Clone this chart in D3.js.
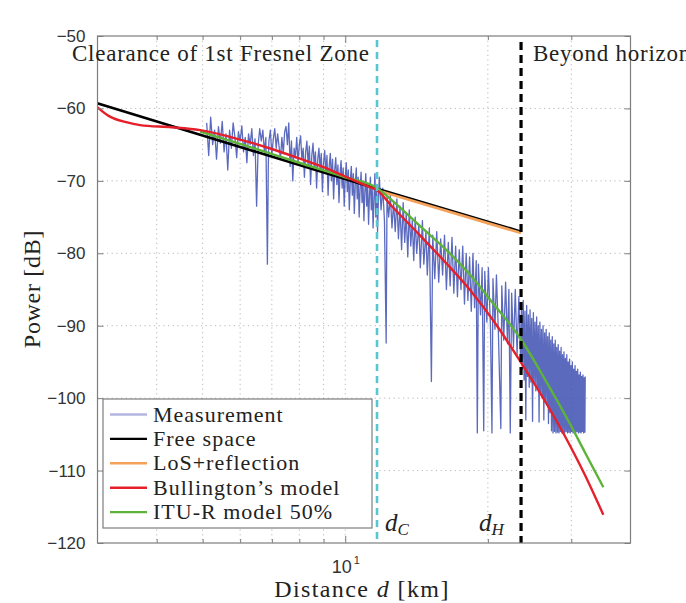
<!DOCTYPE html>
<html>
<head>
<meta charset="utf-8">
<script src="https://cdn.jsdelivr.net/npm/d3@7"></script>
<style>
  body { margin: 0; background: #fff; }
  .serif { font-family: "Liberation Serif", "Times New Roman", serif; fill: #222; }
  .tick text { font-family: "Liberation Sans", Arial, sans-serif; font-size: 17px; fill: #333; }
</style>
</head>
<body>
<script>
// distance [km] and received power [dB]
var measDist = [5.1,5.15,5.2,5.25,5.3,5.35,5.4,5.45,5.5,5.55,5.6,5.65,5.7,5.75,5.8,5.85,5.9,5.95,6.0,6.05,6.1,6.15,6.2,6.25,6.3,6.35,6.4,6.45,6.5,6.55,6.6,6.65,6.7,6.75,6.8,6.85,6.88,6.9,6.95,7.0,7.05,7.1,7.15,7.2,7.3,7.35,7.4,7.45,7.5,7.55,7.6,7.65,7.7,7.75,7.8,7.85,7.9,7.95,8.0,8.05,8.1,8.15,8.2,8.25,8.3,8.35,8.4,8.45,8.5,8.55,8.6,8.65,8.7,8.75,8.8,8.85,8.9,8.95,9.0,9.05,9.1,9.15,9.2,9.25,9.3,9.35,9.4,9.45,9.5,9.55,9.6,9.65,9.7,9.75,9.8,9.85,9.9,9.95,10.0,10.05,10.1,10.15,10.2,10.25,10.3,10.35,10.4,10.45,10.5,10.55,10.6,10.65,10.7,10.75,10.8,10.85,10.9,10.95,11.0,11.05,11.1,11.15,11.2,11.25,11.3,11.35,11.4,11.45,11.5,11.55,11.6,11.65,11.7,
  11.75,11.8,11.9,12.0,12.1,12.2,12.25,12.35,12.45,12.55,12.65,12.75,12.85,12.95,13.05,13.15,13.25,13.35,13.45,13.55,13.65,13.75,13.85,13.95,14.05,14.15,14.3,14.4,14.55,14.65,14.8,14.9,15.05,15.2,15.3,15.45,15.6,15.75,15.9,16.05,16.2,16.35,16.5,16.65,16.8,16.95,17.1,17.25,17.4,17.55,17.7,17.85,18.0,18.15,18.3,18.45,18.6,18.75,18.9,19.0,19.1,19.3,19.45,19.6,19.7,19.9,20.05,20.25,20.4,20.5,20.7,20.85,21.05,21.3,21.4,21.6,21.8,22.0,22.15,22.3,22.45,22.65,22.85,23.05,23.25,23.45,
  23.55,23.65,23.75,23.85,23.95,24.05,24.15,24.25,24.35,24.45,24.55,24.65,24.75,24.85,24.95,25.05,25.15,25.25,25.35,25.45,25.55,25.65,25.75,25.85,25.95,26.05,26.15,26.25,26.35,26.45,26.55,26.65,26.75,26.85,26.95,27.05,27.15,27.25,27.35,27.45,27.55,27.65,27.75,27.85,27.95,28.05,28.15,28.25,28.35,28.45,28.55,28.65,28.75,28.85,28.95,29.05,29.15,29.25,29.35,29.45,29.55,29.65,29.75,29.85,29.95,30.05,30.15,30.25,30.35,30.45,30.55,30.65,30.75,30.85,30.95,31.05,31.15,31.25,31.35,31.45,31.55,31.65,31.75,31.85,31.95,32.05,32.1];
var measPower = [-62.0,-66.5,-61.2,-65.0,-63.0,-67.0,-62.5,-64.8,-61.8,-66.0,-63.5,-68.5,-63.0,-65.5,-62.0,-64.0,-66.8,-63.2,-64.5,-62.4,-66.0,-64.0,-67.5,-63.5,-65.0,-62.8,-66.5,-64.2,-73.5,-65.0,-62.8,-64.5,-63.0,-66.0,-64.0,-81.5,-68.0,-64.5,-63.0,-66.5,-64.2,-62.8,-65.5,-63.5,-67.0,-64.0,-66.2,-63.2,-62.5,-65.0,-62.0,-68.0,-64.5,-70.0,-65.5,-66.8,-64.0,-67.5,-65.0,-63.8,-67.0,-65.5,-69.5,-66.0,-64.5,-67.8,-65.2,-70.5,-66.5,-64.8,-68.0,-66.0,-71.0,-67.0,-65.5,-68.5,-66.2,-71.5,-67.5,-65.8,-69.0,-66.5,-72.0,-68.0,-66.2,-70.0,-67.0,-72.5,-68.5,-66.8,-70.5,-67.8,-73.0,-69.0,-67.2,-71.0,-68.2,-73.5,-69.5,-67.5,-71.5,-68.5,-74.0,-70.0,-68.0,-72.0,-69.0,-74.5,-70.5,-68.2,-72.5,-69.5,-75.0,-71.0,-68.8,-73.0,-70.0,-75.5,-71.5,-69.0,-73.5,-70.5,-76.0,-72.0,-69.5,-74.0,-71.0,-76.5,-72.5,-69.0,-75.0,-70.5,-77.0,
  -72.5,-69.5,-74.0,-71.0,-75.5,-92.4,-72.0,-75.0,-72.0,-76.5,-73.0,-77.0,-72.5,-78.0,-73.5,-79.5,-73.0,-78.5,-74.5,-80.5,-74.0,-79.0,-75.5,-81.0,-75.0,-80.0,-76.0,-82.0,-75.5,-81.5,-77.0,-83.0,-76.5,-97.7,-77.5,-83.5,-77.0,-84.0,-78.0,-83.0,-77.5,-85.0,-78.5,-84.5,-77.8,-85.5,-79.0,-86.0,-79.5,-85.0,-79.0,-87.0,-80.0,-86.5,-80.5,-88.0,-80.0,-87.5,-81.0,-104.8,-81.5,-88.5,-82.0,-104.5,-82.5,-89.5,-82.0,-90.0,-104.8,-83.5,-90.5,-83.0,-91.0,-104.2,-84.5,-92.0,-84.0,-92.5,-85.0,-104.8,-85.5,-93.0,-85.0,-94.0,-86.0,-95.0,
  -87.0,-96.0,-86.5,-97.5,-88.0,-103.0,-87.2,-97.0,-88.5,-98.5,-87.8,-97.8,-89.0,-103.2,-88.2,-98.0,-89.5,-99.0,-88.8,-98.6,-90.0,-103.3,-89.5,-99.5,-90.5,-100.0,-90.0,-103.0,-91.0,-100.5,-90.5,-101.0,-91.5,-103.5,-91.0,-102.0,-92.0,-104.5,-91.5,-104.8,-92.5,-104.6,-92.0,-104.8,-93.0,-104.7,-92.6,-104.8,-93.5,-104.6,-93.0,-104.8,-94.0,-104.7,-93.6,-104.8,-94.5,-104.6,-94.0,-104.8,-95.0,-104.7,-94.6,-104.8,-95.5,-104.6,-95.0,-104.8,-96.0,-104.7,-95.5,-104.8,-96.3,-104.6,-96.0,-104.8,-96.8,-104.7,-96.4,-104.8,-97.0,-104.6,-96.8,-104.8,-97.2,-104.7,-97.0];

var freeDist = [3, 11.67, 23.5];
var freePower = [-59.3, -71.1, -77.0];
var losDist = [11.67, 23.5];
var losPower = [-71.3, -77.2];
var bullDist = [3, 3.18, 3.45, 3.69, 4.3, 4.94, 6, 7, 8, 9, 10, 11.2, 11.67, 12.5, 14.41, 16.3, 18.36, 20.8, 23.45, 26.45, 29.84, 32, 35.05];
var bullPower = [-59.85, -61.1, -61.9, -62.3, -62.6, -63.0, -64.3, -65.6, -66.9, -68.1, -69.4, -70.8, -71.3, -73.4, -77.6, -81.3, -85.1, -89.8, -95.0, -100.5, -106.6, -110.5, -116.1];
var ituDist = [4.94, 6, 8, 10, 11.67, 12.5, 14.41, 16.5, 18.36, 20.5, 23.45, 26.45, 29.84, 32, 35.05];
var ituPower = [-63.2, -64.9, -67.5, -69.5, -71.0, -72.6, -76.3, -79.8, -83.0, -86.9, -91.8, -97.5, -103.6, -107.4, -112.3];

var dC = 11.67, dH = 23.5;
var yTicks = [-120, -110, -100, -90, -80, -70, -60, -50];
var xMinor = [4, 5, 6, 7, 8, 9, 20, 30];
var legendLabels = ["Measurement", "Free space", "LoS+reflection", "Bullington\u2019s model", "ITU-R model 50%"];
var legendColors = ["#b4b6e2", "#000000", "#f4a15a", "#e5202b", "#5db337"];

var width = 686, height = 603;
var box = { left: 97.5, right: 630.5, top: 36, bottom: 543 };

var svg = d3.select("body").append("svg").attr("width", width).attr("height", height);

var x = d3.scaleLog().domain([3, 40]).range([box.left, box.right]);
var y = d3.scaleLinear().domain([-120, -50]).range([box.bottom, box.top]);

function pairs(ds, ps) {
  return ds.map(function(d, i) { return [d, ps[i]]; });
}

svg.append("clipPath").attr("id", "plotclip").append("rect")
  .attr("x", box.left).attr("y", box.top)
  .attr("width", box.right - box.left).attr("height", box.bottom - box.top);

// grid
var grid = svg.append("g").attr("stroke", "#b8b8b8").attr("stroke-width", 1).attr("stroke-dasharray", "1.2,3.5");
grid.selectAll("line.gx").data(xMinor.concat([10])).enter().append("line")
  .attr("x1", function(d) { return x(d); }).attr("x2", function(d) { return x(d); })
  .attr("y1", box.top).attr("y2", box.bottom);
grid.selectAll("line.gy").data(yTicks.slice(1, -1)).enter().append("line")
  .attr("y1", function(d) { return y(d); }).attr("y2", function(d) { return y(d); })
  .attr("x1", box.left).attr("x2", box.right);

var plot = svg.append("g").attr("clip-path", "url(#plotclip)");

// measurement
plot.append("path").datum(pairs(measDist, measPower))
  .attr("fill", "none").attr("stroke", "#3f50b3").attr("stroke-width", 1.3).attr("stroke-opacity", 0.85)
  .attr("stroke-linejoin", "round")
  .attr("d", d3.line().x(function(d) { return x(d[0]); }).y(function(d) { return y(d[1]); }));

var smooth = d3.line().x(function(d) { return x(d[0]); }).y(function(d) { return y(d[1]); }).curve(d3.curveMonotoneX);

plot.append("path").datum(pairs(freeDist, freePower))
  .attr("fill", "none").attr("stroke", legendColors[1]).attr("stroke-width", 2.6).attr("d", smooth);
plot.append("path").datum(pairs(losDist, losPower))
  .attr("fill", "none").attr("stroke", legendColors[2]).attr("stroke-width", 2.8).attr("d", smooth);
plot.append("path").datum(pairs(ituDist, ituPower))
  .attr("fill", "none").attr("stroke", legendColors[4]).attr("stroke-width", 2.4).attr("d", smooth);
plot.append("path").datum(pairs(bullDist, bullPower))
  .attr("fill", "none").attr("stroke", legendColors[3]).attr("stroke-width", 2.4).attr("d", smooth);

// marker lines
svg.append("line").attr("x1", x(dC)).attr("x2", x(dC)).attr("y1", box.top + 4).attr("y2", box.bottom)
  .attr("stroke", "#56c6d3").attr("stroke-width", 2.6).attr("stroke-dasharray", "7,5");
svg.append("line").attr("x1", x(dH)).attr("x2", x(dH)).attr("y1", box.top + 6).attr("y2", box.bottom)
  .attr("stroke", "#000").attr("stroke-width", 3.2).attr("stroke-dasharray", "8,5");

// frame
svg.append("rect").attr("x", box.left).attr("y", box.top)
  .attr("width", box.right - box.left).attr("height", box.bottom - box.top)
  .attr("fill", "none").attr("stroke", "#7d7d7d").attr("stroke-width", 1.2);

// axes (inward ticks)
var yAxisL = svg.append("g").attr("transform", "translate(" + box.left + ",0)")
  .call(d3.axisLeft(y).tickValues(yTicks).tickSize(-6).tickPadding(12).tickFormat(d3.format("d")));
var yAxisR = svg.append("g").attr("transform", "translate(" + box.right + ",0)")
  .call(d3.axisRight(y).tickValues(yTicks).tickSize(-6).tickFormat(""));
var xAxisB = svg.append("g").attr("transform", "translate(0," + box.bottom + ")")
  .call(d3.axisBottom(x).tickValues([10]).tickSize(-7).tickPadding(17).tickFormat(function() { return "10"; }));
var xAxisBm = svg.append("g").attr("transform", "translate(0," + box.bottom + ")")
  .call(d3.axisBottom(x).tickValues(xMinor).tickSize(-4).tickFormat(""));
var xAxisT = svg.append("g").attr("transform", "translate(0," + box.top + ")")
  .call(d3.axisTop(x).tickValues([10]).tickSize(-7).tickFormat(""));
var xAxisTm = svg.append("g").attr("transform", "translate(0," + box.top + ")")
  .call(d3.axisTop(x).tickValues(xMinor).tickSize(-4).tickFormat(""));
[yAxisL, yAxisR, xAxisB, xAxisBm, xAxisT, xAxisTm].forEach(function(a) {
  a.select(".domain").remove();
  a.selectAll(".tick line").attr("stroke", "#7d7d7d");
});
xAxisB.selectAll(".tick text").style("font-size", "18px").append("tspan")
  .attr("dy", "-9").attr("dx", "2").style("font-size", "11px").text("1");

// legend
var lg = svg.append("g").attr("transform", "translate(103,399)");
lg.append("rect").attr("width", 269).attr("height", 129).attr("fill", "#fff")
  .attr("stroke", "#7d7d7d").attr("stroke-width", 1.2);
var items = lg.selectAll("g.item").data(legendLabels).enter().append("g")
  .attr("transform", function(d, i) { return "translate(0," + (15.5 + i * 24.4) + ")"; });
items.append("line").attr("x1", 7).attr("x2", 44).attr("stroke-width", 2.4)
  .attr("stroke", function(d, i) { return legendColors[i]; });
items.append("text").attr("class", "serif").attr("x", 50).attr("y", 7)
  .style("font-size", "22px").style("letter-spacing", "1px").text(function(d) { return d; });

// annotations
svg.append("text").attr("class", "serif").attr("x", 72).attr("y", 61)
  .style("font-size", "23px").style("letter-spacing", "0.75px").text("Clearance of 1st Fresnel Zone");
svg.append("text").attr("class", "serif").attr("x", 533).attr("y", 61)
  .style("font-size", "23px").style("letter-spacing", "0.75px").text("Beyond horizon");

var lc = svg.append("text").attr("class", "serif").attr("x", x(dC) + 8).attr("y", 531).style("font-size", "25px");
lc.append("tspan").style("font-style", "italic").text("d");
lc.append("tspan").style("font-style", "italic").style("font-size", "17px").attr("dy", 4).text("C");
var lh = svg.append("text").attr("class", "serif").attr("x", x(dH) - 42).attr("y", 531).style("font-size", "25px");
lh.append("tspan").style("font-style", "italic").text("d");
lh.append("tspan").style("font-style", "italic").style("font-size", "17px").attr("dy", 4).text("H");

// axis titles
var xt = svg.append("text").attr("class", "serif").attr("x", 362).attr("y", 597)
  .attr("text-anchor", "middle").style("font-size", "24px").style("letter-spacing", "1.4px");
xt.append("tspan").text("Distance ");
xt.append("tspan").style("font-style", "italic").text("d");
xt.append("tspan").text(" [km]");
svg.append("text").attr("class", "serif").attr("transform", "translate(40,289) rotate(-90)")
  .attr("text-anchor", "middle").style("font-size", "24px").style("letter-spacing", "0.7px").text("Power [dB]");
</script>
</body>
</html>
